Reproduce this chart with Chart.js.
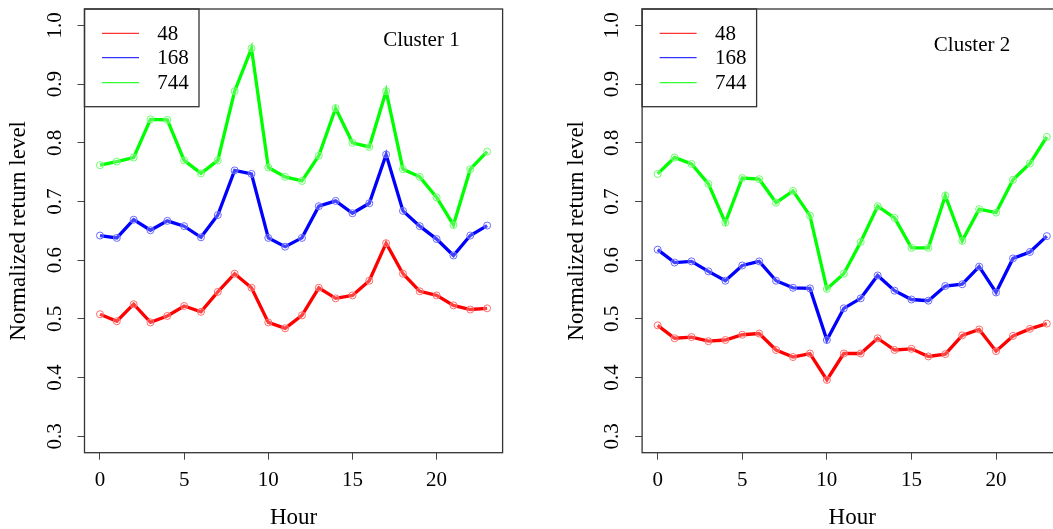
<!DOCTYPE html>
<html><head><meta charset="utf-8">
<script src="https://cdn.jsdelivr.net/npm/chart.js@4.4.1/dist/chart.umd.min.js"></script>
<style>
html,body{margin:0;padding:0;background:#fff;overflow:hidden;width:1053px;height:529px;position:relative;}
#c1{position:absolute;left:0;top:0;}
#c2{position:absolute;left:540px;top:0;}
</style></head><body>
<canvas id="c1" width="527" height="529"></canvas>
<canvas id="c2" width="540" height="529"></canvas>
<script>
// ---- data ----
const hours = [0,1,2,3,4,5,6,7,8,9,10,11,12,13,14,15,16,17,18,19,20,21,22,23];
const seriesLabels = ['48', '168', '744'];
const seriesColors = ['#ff0000', '#0000ff', '#00ff00'];
const pointColors = ['#ff6a6a', '#6a6aff', '#6aff6a'];
const yTicks = [0.3, 0.4, 0.5, 0.6, 0.7, 0.8, 0.9, 1.0];
const yTickLabels = ['0.3', '0.4', '0.5', '0.6', '0.7', '0.8', '0.9', '1.0'];
const xTicks = [0, 5, 10, 15, 20];
const xTickLabels = ['0', '5', '10', '15', '20'];
const xTitle = 'Hour';
const yTitle = 'Normalized return level';
const panelTitles = ['Cluster 1', 'Cluster 2'];

const cluster1_48  = [0.508,0.496,0.525,0.494,0.505,0.522,0.512,0.546,0.577,0.553,0.494,0.484,0.506,0.553,0.535,0.540,0.565,0.629,0.577,0.547,0.540,0.523,0.516,0.518];
const cluster1_168 = [0.642,0.638,0.669,0.651,0.667,0.658,0.639,0.677,0.753,0.747,0.638,0.623,0.638,0.692,0.701,0.680,0.697,0.780,0.684,0.658,0.636,0.608,0.642,0.659];
const cluster1_744 = [0.762,0.768,0.775,0.840,0.839,0.770,0.748,0.770,0.888,0.961,0.758,0.742,0.735,0.778,0.859,0.800,0.793,0.888,0.755,0.742,0.707,0.660,0.755,0.785];

const cluster2_48  = [0.489,0.467,0.469,0.462,0.464,0.473,0.475,0.447,0.435,0.441,0.396,0.441,0.441,0.467,0.447,0.449,0.436,0.440,0.472,0.482,0.445,0.471,0.483,0.492];
const cluster2_168 = [0.618,0.596,0.598,0.581,0.565,0.591,0.598,0.565,0.553,0.552,0.464,0.518,0.535,0.574,0.548,0.533,0.531,0.556,0.559,0.589,0.545,0.603,0.614,0.641];
const cluster2_744 = [0.747,0.775,0.764,0.730,0.664,0.740,0.738,0.698,0.718,0.676,0.551,0.577,0.631,0.692,0.672,0.621,0.621,0.710,0.633,0.687,0.681,0.737,0.765,0.810];

// ---- rendering ----
const FONT = "'Liberation Serif', 'Times New Roman', serif";

const panelPlugin = {
  id: 'panelDecor',
  afterDraw(chart, args, opts) {
    const ctx = chart.ctx, ca = chart.chartArea;
    const ys = chart.scales.y, xs = chart.scales.x;
    ctx.save();
    // y tick labels (rotated, R style)
    ctx.fillStyle = '#000';
    ctx.font = '21px ' + FONT;
    ctx.textAlign = 'center';
    ctx.textBaseline = 'middle';
    yTicks.forEach((v, i) => {
      const py = ys.getPixelForValue(v);
      ctx.save();
      ctx.translate(ca.left - opts.yLabelOffset, py);
      ctx.rotate(-Math.PI / 2);
      ctx.fillText(yTickLabels[i], 0, 0);
      ctx.restore();
    });
    // legend box
    const lx = ca.left, ly = ca.top, lw = 114.5, lh = 97.7;
    ctx.fillStyle = '#fff';
    ctx.fillRect(lx, ly, lw, lh);
    ctx.strokeStyle = '#333';
    ctx.lineWidth = 1.3;
    ctx.strokeRect(lx, ly, lw, lh);
    const rowY = [24.3, 48.7, 73.7];
    chart.data.datasets.forEach((ds, i) => {
      const yy = ly + rowY[i];
      ctx.strokeStyle = seriesColors[i];
      ctx.lineWidth = 1;
      ctx.beginPath();
      ctx.moveTo(lx + 17.5, yy);
      ctx.lineTo(lx + 54.5, yy);
      ctx.stroke();
      ctx.fillStyle = '#000';
      ctx.textAlign = 'left';
      ctx.textBaseline = 'middle';
      ctx.font = '21px ' + FONT;
      ctx.fillText(ds.label, lx + 72.8, yy + 1);
    });
    // panel title text
    ctx.textAlign = 'center';
    ctx.textBaseline = 'middle';
    ctx.fillStyle = '#000';
    ctx.font = '21px ' + FONT;
    ctx.fillText(opts.title, xs.getPixelForValue(opts.titleX), ys.getPixelForValue(opts.titleY));
    // plot box
    ctx.strokeStyle = '#333';
    ctx.lineWidth = 1.3;
    ctx.strokeRect(ca.left, ca.top, ca.width, ca.height);
    ctx.restore();
  }
};

function makeChart(id, series, geom) {
  const datasets = series.map((vals, i) => ({
    label: seriesLabels[i],
    data: hours.map((h, k) => ({ x: h, y: vals[k] })),
    borderColor: seriesColors[i],
    borderWidth: 3.3,
    pointRadius: 3.5,
    pointBorderWidth: 1,
    pointBorderColor: pointColors[i],
    pointBackgroundColor: 'rgba(255,255,255,0.25)',
    tension: 0,
    fill: false
  }));
  return new Chart(document.getElementById(id), {
    type: 'line',
    data: { datasets },
    options: {
      responsive: false,
      animation: false,
      layout: { padding: { top: 9, right: geom.padRight, left: 0, bottom: 0 } },
      plugins: {
        legend: { display: false },
        tooltip: { enabled: false },
        panelDecor: { title: geom.title, titleX: geom.titleX, titleY: geom.titleY, yLabelOffset: 29.5 }
      },
      scales: {
        x: {
          type: 'linear', min: -0.92, max: 23.92,
          afterBuildTicks: s => { s.ticks = xTicks.map(v => ({ value: v })); },
          afterFit: s => { s.height = 76.3; },
          ticks: {
            callback: (v, i) => xTickLabels[i],
            font: { family: FONT, size: 21 }, color: '#000', padding: 8,
            maxRotation: 0, minRotation: 0, autoSkip: false
          },
          grid: { display: true, drawOnChartArea: false, drawTicks: true, tickLength: 7, color: '#444', lineWidth: 1 },
          border: { display: false },
          title: { display: true, text: xTitle, font: { family: FONT, size: 23, lineHeight: 1 }, color: '#000', padding: { top: 0, bottom: 0 } }
        },
        y: {
          type: 'linear', min: 0.272, max: 1.028,
          afterBuildTicks: s => { s.ticks = yTicks.map(v => ({ value: v })); },
          afterFit: s => { s.width = geom.yAxisWidth; },
          ticks: { display: false },
          grid: { display: true, drawOnChartArea: false, drawTicks: true, tickLength: 7, color: '#444', lineWidth: 1 },
          border: { display: false },
          title: { display: true, text: yTitle, font: { family: FONT, size: 23, lineHeight: 1.2 }, color: '#000', padding: { top: geom.yTitlePad, bottom: 0 } }
        }
      }
    },
    plugins: [panelPlugin]
  });
}

makeChart('c1', [cluster1_48, cluster1_168, cluster1_744],
  { yAxisWidth: 84.5, padRight: 24.4, yTitlePad: 5, title: panelTitles[0], titleX: 19.1, titleY: 0.975 });
makeChart('c2', [cluster2_48, cluster2_168, cluster2_744],
  { yAxisWidth: 102.1, padRight: 17.6, yTitlePad: 22.8, title: panelTitles[1], titleX: 18.58, titleY: 0.966 });
</script>
</body></html>
